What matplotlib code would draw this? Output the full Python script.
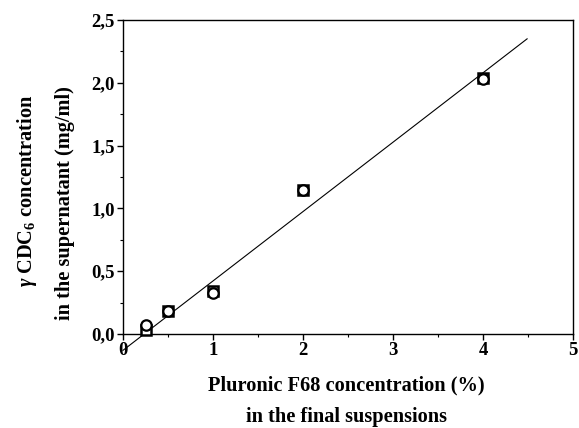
import matplotlib
matplotlib.use("Agg")
import matplotlib.pyplot as plt
from matplotlib.ticker import MultipleLocator, FuncFormatter

plt.rcParams['font.family'] = ['Liberation Serif', 'DejaVu Serif']
plt.rcParams['font.weight'] = 'bold'
plt.rcParams['mathtext.fontset'] = 'custom'
plt.rcParams['mathtext.rm'] = 'Liberation Serif:bold'
plt.rcParams['mathtext.it'] = 'Liberation Serif:italic'
plt.rcParams['mathtext.bf'] = 'Liberation Serif:bold'

# data
conc = [0.25, 0.5, 1.0, 2.0, 4.0]
circles = [0.07, 0.18, 0.33, 1.15, 2.03]
squares = [0.03, 0.18, 0.34, 1.15, 2.04]
fit_x = [0.0, 4.49]
fit_y = [-0.13, 2.35]
x_ticks = [0, 1, 2, 3, 4, 5]
y_ticks = [0.0, 0.5, 1.0, 1.5, 2.0, 2.5]

fig = plt.figure(figsize=(5.79, 4.28), dpi=100)
ax = fig.add_axes([123/579, 1-334/428, 450/579, 314/428])

ax.plot(fit_x, fit_y, color='black', lw=0.8, clip_on=False, zorder=2)
ax.plot(conc, squares, linestyle='none', marker='s', ms=6.5, mfc='white',
        mec='black', mew=1.8, clip_on=False, zorder=3)
ax.plot(conc, circles, linestyle='none', marker='o', ms=7.5, mfc='white',
        mec='black', mew=1.6, clip_on=False, zorder=4)

ax.set_xlim(0, 5)
ax.set_ylim(0, 2.5)
ax.set_xticks(x_ticks)
ax.set_yticks(y_ticks)
ax.xaxis.set_minor_locator(MultipleLocator(0.5))
ax.yaxis.set_minor_locator(MultipleLocator(0.25))
ax.xaxis.set_major_formatter(FuncFormatter(lambda v, p: f"{v:.0f}"))
ax.yaxis.set_major_formatter(FuncFormatter(lambda v, p: f"{v:.1f}".replace('.', ',')))
ax.tick_params(which='major', length=4, width=1.0, labelsize=13.5, pad=2)
ax.tick_params(which='minor', length=2.5, width=0.8)
for lab in ax.get_xticklabels() + ax.get_yticklabels():
    lab.set_fontweight('bold')
for s in ax.spines.values():
    s.set_linewidth(1.0)

fig.text(346/579, 1-385/428, "Pluronic F68 concentration (%)", ha='center', va='center',
         fontsize=14.7, fontweight='bold')
fig.text(346/579, 1-417/428, "in the final suspensions", ha='center', va='center',
         fontsize=14.7, fontweight='bold')
fig.text(27/579, 1-191/428, r"$\gamma$ CDC$_6$ concentration", ha='center', va='center',
         rotation=90, fontsize=14.7, fontweight='bold')
fig.text(65/579, 1-203/428, "in the supernatant (mg/ml)", ha='center', va='center',
         rotation=90, fontsize=14.7, fontweight='bold')

fig.savefig("out.png", dpi=100)
